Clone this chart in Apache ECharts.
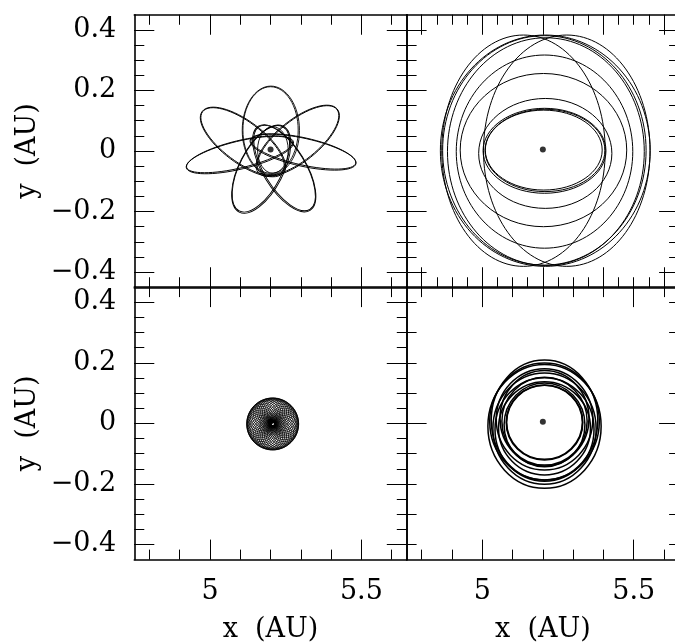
<!DOCTYPE html>
<html>
<head>
<meta charset="utf-8">
<script src="https://cdn.jsdelivr.net/npm/echarts@6/dist/echarts.min.js"></script>
<style>
html,body{margin:0;padding:0;background:#fff;}
#chart{width:675px;height:643px;}
</style>
</head>
<body>
<div id="chart"></div>
<script>
// ---------------- data (AU) ----------------
const xRange = [4.75, 5.65];
const yRange = [-0.45, 0.45];

// tick positions / labels
const xTickLabels = [5, 5.5];
const yTickLabels = [0.4, 0.2, 0, -0.2, -0.4];
const xMajorHalf = [5, 5.5];
const xMinorTenth = [4.8, 4.9, 5.0, 5.1, 5.2, 5.3, 5.4, 5.5, 5.6];
const xMajorFifth = [4.8, 5.0, 5.2, 5.4, 5.6];
const xMinorTwentieth = [4.8, 4.85, 4.9, 4.95, 5.0, 5.05, 5.1, 5.15, 5.2, 5.25, 5.3, 5.35, 5.4, 5.45, 5.5, 5.55, 5.6];
const yMajorFifth = [-0.4, -0.2, 0, 0.2, 0.4];
const yMinorTwentieth = [-0.4, -0.35, -0.3, -0.25, -0.2, -0.15, -0.1, -0.05, 0, 0.05, 0.1, 0.15, 0.2, 0.25, 0.3, 0.35, 0.4];
const yMajorHalf = [0];
const yMinorTenth = [-0.4, -0.3, -0.2, -0.1, 0, 0.1, 0.2, 0.3, 0.4];

// central body position
const star = [[5.2, 0.005]];

// panel 1 (top-left): loops as ellipses [cx, cy, semi-axis a, semi-axis b, tilt deg]
const loopsTL = [
  [5.2000, 0.0693, 0.143, 0.0913, 90],
  [5.2010, 0.0683, 0.146, 0.0945, 90],
  [5.1076, 0.0308, 0.165, 0.066, 143.1],
  [5.1086, 0.0298, 0.168, 0.069, 143.1],
  [5.2908, 0.0347, 0.1643, 0.066, 38.7],
  [5.2898, 0.0337, 0.1673, 0.069, 38.7],
  [5.1681, -0.0589, 0.1564, 0.070, 62.8],
  [5.1691, -0.0599, 0.1594, 0.073, 62.8],
  [5.2462, -0.0561, 0.160, 0.068, 121.5],
  [5.2452, -0.0571, 0.163, 0.071, 121.5],
  [5.0977, -0.0116, 0.180, 0.044, 13.6],
  [5.0987, -0.0126, 0.182, 0.047, 13.6],
  [5.3084, -0.0022, 0.177, 0.044, -12.5],
  [5.3074, -0.0032, 0.179, 0.047, -12.5],
  [5.2077, 0.0033, 0.077, 0.0506, 90]
];

// panel 2 (top-right): orbits [cx, cy, rx, ry]
const loopsTR = [
  [5.2055, 0.0007, 0.203, 0.1403],
  [5.2030, 0.0030, 0.193, 0.1320],
  [5.2070, 0.0019, 0.198, 0.1360],
  [5.2080, -0.008, 0.220, 0.1815],
  [5.2020, 0.003, 0.275, 0.253],
  [5.2055, -0.002, 0.2915, 0.319],
  [5.2080, 0.001, 0.3465, 0.382],
  [5.2050, 0.002, 0.336, 0.379],
  [5.2100, -0.002, 0.325, 0.376],
  [5.1360, 0.001, 0.270, 0.382],
  [5.2790, 0.001, 0.275, 0.382]
];

// panel 3 (bottom-left): small loops [cx, cy, r]
const loopsBL = [
  [5.2470,-0.0020,0.046],[5.2465,0.0043,0.046],[5.2450,0.0104,0.046],[5.2426,0.0162,0.046],
  [5.2394,0.0215,0.046],[5.2353,0.0263,0.046],[5.2305,0.0304,0.046],[5.2252,0.0336,0.046],
  [5.2194,0.0360,0.046],[5.2133,0.0375,0.046],[5.2070,0.0380,0.046],[5.2007,0.0375,0.046],
  [5.1946,0.0360,0.046],[5.1888,0.0336,0.046],[5.1835,0.0304,0.046],[5.1787,0.0263,0.046],
  [5.1746,0.0215,0.046],[5.1714,0.0162,0.046],[5.1690,0.0104,0.046],[5.1675,0.0043,0.046],
  [5.1670,-0.0020,0.046],[5.1675,-0.0083,0.046],[5.1690,-0.0144,0.046],[5.1714,-0.0202,0.046],
  [5.1746,-0.0255,0.046],[5.1787,-0.0303,0.046],[5.1835,-0.0344,0.046],[5.1888,-0.0376,0.046],
  [5.1946,-0.0400,0.046],[5.2007,-0.0415,0.046],[5.2070,-0.0420,0.046],[5.2133,-0.0415,0.046],
  [5.2194,-0.0400,0.046],[5.2252,-0.0376,0.046],[5.2305,-0.0344,0.046],[5.2353,-0.0303,0.046],
  [5.2394,-0.0255,0.046],[5.2426,-0.0202,0.046],[5.2450,-0.0144,0.046],[5.2465,-0.0083,0.046]
];

// panel 4 (bottom-right): orbits [cx, cy, rx, ry]
const loopsBR = [
  [5.2055, 0.0028, 0.1265, 0.1238],
  [5.2055, 0.0035, 0.1250, 0.1222],
  [5.2055, -0.0050, 0.1335, 0.1385],
  [5.2055, 0.0072, 0.1408, 0.1447],
  [5.2055, 0.0170, 0.1470, 0.1575],
  [5.2055, -0.0165, 0.1518, 0.1540],
  [5.2055, 0.0132, 0.1595, 0.1672],
  [5.2055, -0.0200, 0.1635, 0.1710],
  [5.2055, -0.0176, 0.1705, 0.1837],
  [5.2055, 0.0110, 0.1760, 0.1980],
  [5.2055, 0.0060, 0.1810, 0.1930],
  [5.2055, -0.0099, 0.1870, 0.2046]
];

// ---------------- layout ----------------
const FONT = 'DejaVu Serif';
const GW = 272.5, GH = 272.5;
const grids = [
  {left: 134.3, top: 14.75, width: GW, height: GH},
  {left: 406.6, top: 14.75, width: GW, height: GH},
  {left: 134.3, top: 287.1, width: GW, height: GH},
  {left: 406.6, top: 287.1, width: GW, height: GH}
].map(g => Object.assign(g, {containLabel: false, outerBoundsMode: 'none', show: false}));

function fmt(v) {
  if (Math.abs(v) < 1e-9) return '0';
  return (v < 0 ? '\u2212' : '') + String(Math.abs(v));
}

const xAxes = [], yAxes = [];
function addAxes(g, xMaj, xMin, yMaj, yMin, xLab, yLab) {
  const lineOn = {show: true, onZero: false, lineStyle: {color: '#000', width: 1.6}};
  const lineOff = {show: false, onZero: false};
  const base = {gridIndex: g, type: 'value', splitLine: {show: false}};
  ['bottom', 'top'].forEach(pos => {
    const showLab = xLab && pos === 'bottom';
    xAxes.push(Object.assign({}, base, {
      min: xRange[0], max: xRange[1], position: pos,
      axisLine: lineOn,
      axisTick: {show: true, inside: true, length: 20, customValues: xMaj, lineStyle: {color: '#000', width: 1}},
      axisLabel: {show: showLab, customValues: xTickLabels, formatter: fmt, fontFamily: FONT, fontSize: 27, color: '#000', margin: 19},
      name: showLab ? 'x  (AU)' : '', nameLocation: 'middle', nameGap: 57,
      nameTextStyle: {fontFamily: FONT, fontSize: 27, color: '#000'}
    }));
    xAxes.push(Object.assign({}, base, {
      min: xRange[0], max: xRange[1], position: pos,
      axisLine: lineOff,
      axisTick: {show: true, inside: true, length: 10, customValues: xMin, lineStyle: {color: '#000', width: 1}},
      axisLabel: {show: false, customValues: xMin}
    }));
  });
  ['left', 'right'].forEach(pos => {
    const showLab = yLab && pos === 'left';
    yAxes.push(Object.assign({}, base, {
      min: yRange[0], max: yRange[1], position: pos,
      axisLine: lineOn,
      axisTick: {show: true, inside: true, length: 20, customValues: yMaj, lineStyle: {color: '#000', width: 1}},
      axisLabel: {show: showLab, customValues: yTickLabels, formatter: fmt, fontFamily: FONT, fontSize: 27, color: '#000', margin: 18},
      name: showLab ? 'y  (AU)' : '', nameLocation: 'middle', nameGap: 93, nameRotate: 90,
      nameTextStyle: {fontFamily: FONT, fontSize: 27, color: '#000'}
    }));
    yAxes.push(Object.assign({}, base, {
      min: yRange[0], max: yRange[1], position: pos,
      axisLine: lineOff,
      axisTick: {show: true, inside: true, length: 10, customValues: yMin, lineStyle: {color: '#000', width: 1}},
      axisLabel: {show: false, customValues: yMin}
    }));
  });
}
addAxes(0, xMajorHalf, xMinorTenth, yMajorFifth, yMinorTwentieth, false, true);
addAxes(1, xMajorFifth, xMinorTwentieth, yMajorFifth, yMinorTwentieth, false, false);
addAxes(2, xMajorHalf, xMinorTenth, yMajorFifth, yMinorTwentieth, true, true);
addAxes(3, xMajorHalf, xMinorTenth, yMajorHalf, yMinorTenth, true, false);

function ellipseSeries(g, data, kind, lw) {
  return {
    type: 'custom', xAxisIndex: 4 * g, yAxisIndex: 4 * g, silent: true,
    encode: {x: 0, y: 1},
    data: data,
    renderItem: function (params, api) {
      const c = api.coord([api.value(0), api.value(1)]);
      let rx, ry, rot = 0;
      if (kind === 'circle') {
        const s = api.size([api.value(2), api.value(2)]);
        rx = s[0]; ry = s[1];
      } else if (kind === 'tilted') {
        rx = api.size([api.value(2), api.value(2)])[0];
        ry = api.size([api.value(3), api.value(3)])[0];
        rot = api.value(4) * Math.PI / 180;
      } else {
        const s = api.size([api.value(2), api.value(3)]);
        rx = s[0]; ry = s[1];
      }
      return {
        type: 'ellipse',
        shape: {cx: c[0], cy: c[1], rx: rx, ry: ry},
        rotation: rot, originX: c[0], originY: c[1],
        style: {fill: null, stroke: '#000', lineWidth: lw}
      };
    }
  };
}
function starSeries(g) {
  return {type: 'scatter', xAxisIndex: 4 * g, yAxisIndex: 4 * g, data: star,
    symbol: 'circle', symbolSize: 6, itemStyle: {color: '#000'}, silent: true, z: 5};
}

const option = {
  animation: false,
  backgroundColor: '#fff',
  grid: grids,
  xAxis: xAxes,
  yAxis: yAxes,
  series: [
    ellipseSeries(0, loopsTL, 'tilted', 0.9),
    ellipseSeries(1, loopsTR, 'plain', 1.0),
    ellipseSeries(2, loopsBL, 'circle', 0.8),
    ellipseSeries(3, loopsBR, 'plain', 1.5),
    starSeries(0), starSeries(1), starSeries(2), starSeries(3)
  ]
};
const chart = echarts.init(document.getElementById('chart'), null, {renderer: 'canvas'});
chart.setOption(option);
</script>
</body>
</html>
